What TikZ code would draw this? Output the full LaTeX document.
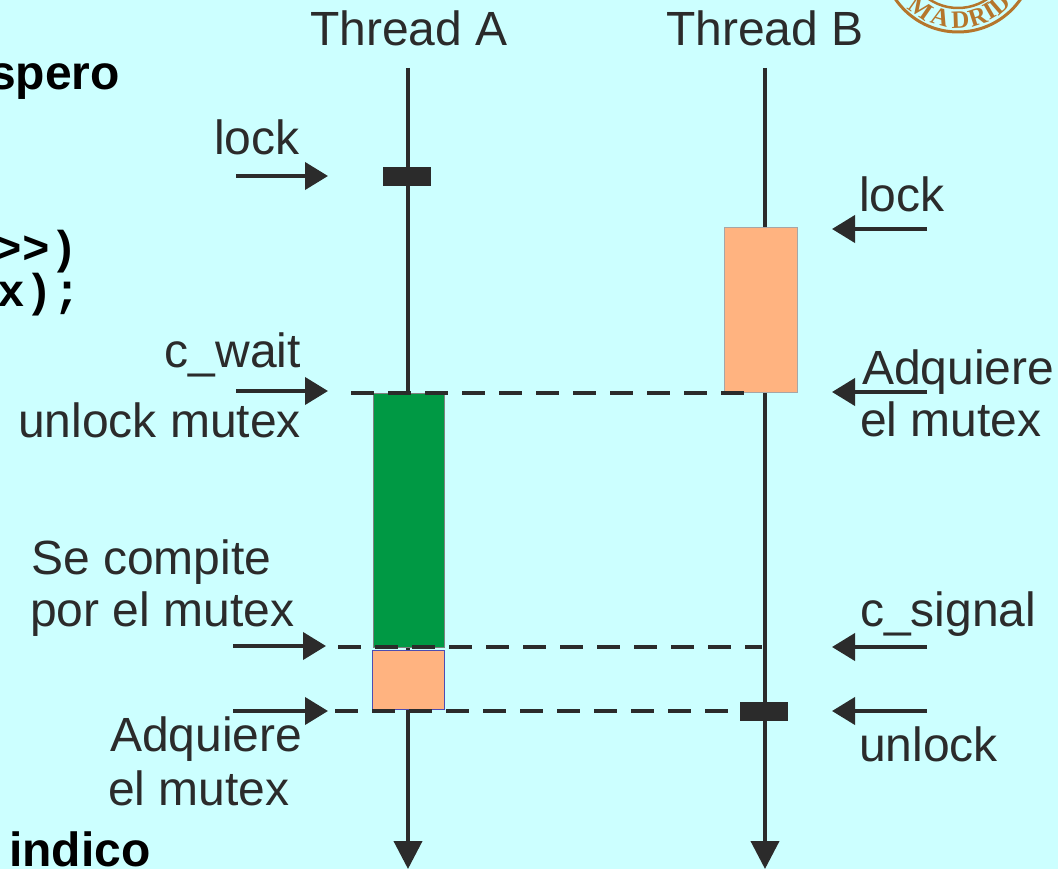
\documentclass[tikz,border=0pt]{standalone}
\usepackage{fontspec}
\setmainfont{Liberation Sans}
\newfontfamily\monof{Liberation Mono}
\newfontfamily\seriff{Liberation Serif}
\usetikzlibrary{arrows.meta}
\definecolor{bg}{HTML}{CCFFFF}
\definecolor{ink}{HTML}{2B2B2B}
\definecolor{grn}{HTML}{009944}
\definecolor{org}{HTML}{FFB380}
\definecolor{seal}{HTML}{B5762C}
\begin{document}
\begin{tikzpicture}[x=1pt,y=-1pt,
  lbl/.style={inner sep=0pt, text=ink, font=\fontsize{48}{52}\selectfont},
  boldlbl/.style={inner sep=0pt, text=black, font=\fontsize{48}{52}\selectfont\bfseries},
  code/.style={inner sep=0pt, text=black, font=\fontsize{46}{50}\selectfont\monof\bfseries},
  thread/.style={draw=ink, line width=4pt, -{Triangle[length=28pt,width=28pt]}},
  ptr/.style={draw=ink, line width=4pt, -{Triangle[length=23pt,width=27pt]}},
  sync/.style={draw=ink, line width=4pt, dash pattern=on 23pt off 14pt},
  lockbar/.style={fill=ink, draw=ink, line width=0.5pt, minimum width=47pt, minimum height=18pt, inner sep=0pt},
  greenbox/.style={fill=grn, draw=gray, line width=1pt, inner sep=0pt},
  orangeA/.style={fill=org, draw=gray!60!blue, line width=1pt, inner sep=0pt},
  orangeB/.style={fill=org, draw=gray!70, line width=1pt, inner sep=0pt},
  sealtxt/.style={text=seal, inner sep=0pt, font=\seriff\bfseries\fontsize{25}{25}\selectfont}
]
\useasboundingbox (0,0) rectangle (1058,869);
\fill[bg] (0,0) rectangle (1058,869);

% seal (partial logo)
\begin{scope}
\clip (0,0) rectangle (1058,869);
\draw[seal, line width=3pt] (958,-44) circle[radius=76];
\draw[seal, line width=2.5pt] (958,-44) circle[radius=52];
\foreach \ch/\a [count=\i] in {M/-35,A/-16,D/2,R/18,I/30,D/41}
  \node[sealtxt, rotate=\a] (seal\i) at ({958+64*sin(\a)},{-44+64*cos(\a)}) {\ch};
\node[sealtxt, rotate=56] (sealstar) at ({958+64*sin(56)},{-44+64*cos(56)}) {*};
\end{scope}

% threads
\coordinate (Atop) at (408,68);
\coordinate (Abot) at (408,869);
\coordinate (Btop) at (765,68);
\coordinate (Bbot) at (765,869);
\draw[thread] (Atop) -- (Abot);
\draw[thread] (Btop) -- (Bbot);

% boxes
\node[greenbox, minimum width=71pt, minimum height=254pt] (gA) at (408.5,520) {};
\node[orangeA, minimum width=72pt, minimum height=59pt] (oA) at (408,679.5) {};
\node[orangeB, minimum width=73pt, minimum height=164pt] (oB) at (760.5,310) {};

% dashed sync lines
\coordinate (d1s) at (351,393);
\coordinate (d1e) at (745,393);
\coordinate (d2s) at (338,647);
\coordinate (d2e) at (762,647);
\coordinate (d3s) at (335,711);
\coordinate (d3e) at (745,711);
\draw[sync] (d1s) -- (d1e);
\draw[sync] (d2s) -- (d2e);
\draw[sync] (d3s) -- (d3e);

% lock markers
\node[lockbar] (lkA) at (406.5,176) {};
\node[lockbar] (ulB) at (763.5,711.5) {};

% pointer arrows, left
\coordinate (pl1s) at (236,176);  \coordinate (pl1e) at (328,176);
\coordinate (pl2s) at (236,391);  \coordinate (pl2e) at (328,391);
\coordinate (pl3s) at (233,646);  \coordinate (pl3e) at (326,646);
\coordinate (pl4s) at (233,711);  \coordinate (pl4e) at (328,711);
\draw[ptr] (pl1s) -- (pl1e);
\draw[ptr] (pl2s) -- (pl2e);
\draw[ptr] (pl3s) -- (pl3e);
\draw[ptr] (pl4s) -- (pl4e);

% pointer arrows, right
\coordinate (pr1s) at (927,229);  \coordinate (pr1e) at (832,229);
\coordinate (pr2s) at (927,392);  \coordinate (pr2e) at (832,392);
\coordinate (pr3s) at (927,647);  \coordinate (pr3e) at (832,647);
\coordinate (pr4s) at (927,711);  \coordinate (pr4e) at (832,711);
\draw[ptr] (pr1s) -- (pr1e);
\draw[ptr] (pr2s) -- (pr2e);
\draw[ptr] (pr3s) -- (pr3e);
\draw[ptr] (pr4s) -- (pr4e);

% titles
\node[lbl, anchor=base] (tA) at (409,46) {Thread A};
\node[lbl, anchor=base] (tB) at (765,46) {Thread B};

% left labels
\node[lbl, anchor=base west] (llock) at (214,155) {lock};
\node[lbl, anchor=base east] (lwait) at (301,367) {c\_wait};
\node[lbl, anchor=base east] (lunl) at (301,437) {unlock mutex};
\node[lbl, anchor=base west] (lcomp1) at (31,574) {Se compite};
\node[lbl, anchor=base west] (lcomp2) at (30,626) {por el mutex};
\node[lbl, anchor=base west] (ladq1) at (110,751) {Adquiere};
\node[lbl, anchor=base west] (ladq2) at (108,805) {el mutex};

% right labels
\node[lbl, anchor=base west] (rlock) at (859,212) {lock};
\node[lbl, anchor=base west] (radq1) at (862,384) {Adquiere};
\node[lbl, anchor=base west] (radq2) at (860,436) {el mutex};
\node[lbl, anchor=base west] (rsig) at (860,626) {c\_signal};
\node[lbl, anchor=base west] (runl) at (859,761) {unlock};

% cut-off slide text
\node[boldlbl, anchor=base east] (spero) at (120,90) {spero};
\node[boldlbl, anchor=base west] (indico) at (9,866) {indico};
\node[code, anchor=base east] (code1) at (78,264) {>>)};
\node[code, anchor=base east] (code2) at (81,306) {x);};
\end{tikzpicture}
\end{document}
